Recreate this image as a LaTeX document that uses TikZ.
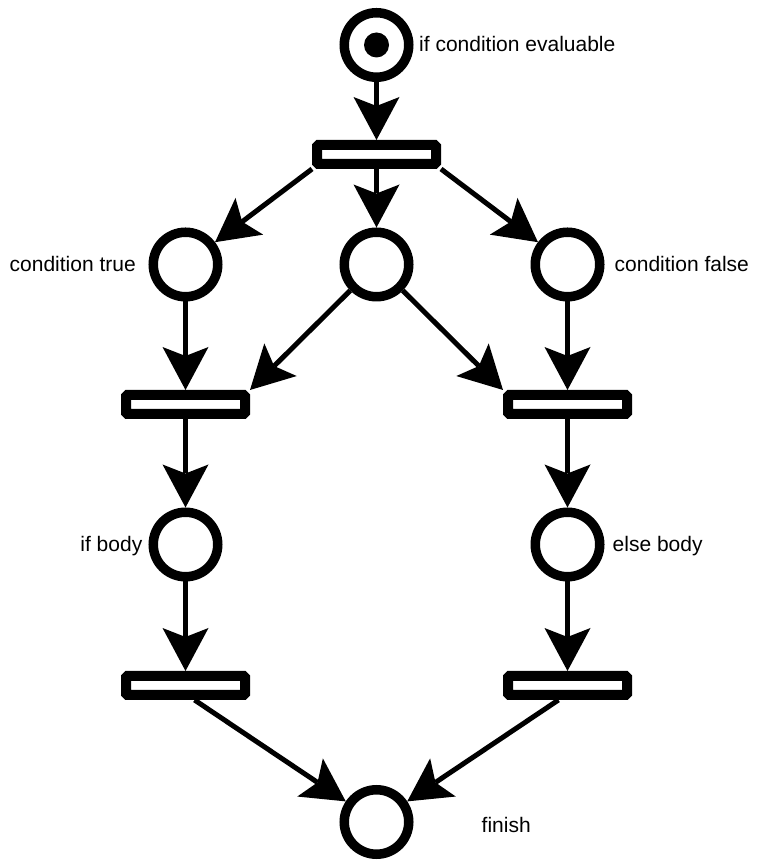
\documentclass[tikz,border=0pt]{standalone}
\usepackage{fontspec}
\setmainfont{Liberation Sans}
\usetikzlibrary{arrows.meta}

\tikzset{
  place/.style={circle, draw, line width=9.5pt, minimum size=64.5pt, inner sep=0pt},
  transition/.style={rectangle, draw, line width=10pt, minimum width=119pt,
    minimum height=19pt, inner sep=0pt, rounded corners=1.5pt},
  arc/.style={line width=5pt,
    -{Stealth[length=43pt, width=46pt, inset=9pt, line width=0pt]}},
  lbl/.style={inner sep=0pt, font=\fontsize{21}{25}\selectfont}
}

\begin{document}
\begin{tikzpicture}[x=1pt, y=1pt]
  \useasboundingbox (0,0) rectangle (758,861);

  % places
  \node[place] (p0)  at (376.5,816)   {};
  \node[place] (p2l) at (185.5,596.5) {};
  \node[place] (p2m) at (376.5,596.5) {};
  \node[place] (p2r) at (567.5,596.5) {};
  \node[place] (p4l) at (185.5,316.5) {};
  \node[place] (p4r) at (567.5,316.5) {};
  \node[place] (fin) at (376.5,39)    {};

  % token in the initial place
  \fill (p0.center) circle (12.5);

  % transitions
  \node[transition] (ttop) at (376.5,706.5) {};
  \node[transition] (t3l)  at (185.5,456.5) {};
  \node[transition] (t3r)  at (567.5,456.5) {};
  \node[transition] (t5l)  at (185.5,175.5) {};
  \node[transition] (t5r)  at (567.5,175.5) {};

  % arcs
  \draw[arc] (p0) -- (ttop);
  \draw[arc] (ttop.south west) -- (p2l);
  \draw[arc] (ttop) -- (p2m);
  \draw[arc] (ttop.south east) -- (p2r);
  \draw[arc] (p2l) -- (t3l);
  \draw[arc] (p2m) -- (t3l.north east);
  \draw[arc] (p2m) -- (t3r.north west);
  \draw[arc] (p2r) -- (t3r);
  \draw[arc] (t3l) -- (p4l);
  \draw[arc] (t3r) -- (p4r);
  \draw[arc] (p4l) -- (t5l);
  \draw[arc] (p4r) -- (t5r);
  \draw[arc] (t5l.-58) -- (fin);
  \draw[arc] (t5r.-122) -- (fin);

  % labels
  \node[lbl, anchor=base west] (l0)  at (419,809)     {if condition evaluable};
  \node[lbl, anchor=base west] (l2l) at (9.5,589.3)   {condition true};
  \node[lbl, anchor=base west] (l2r) at (614.5,589.3) {condition false};
  \node[lbl, anchor=base east] (l4l) at (142.5,309.3) {if body};
  \node[lbl, anchor=base west] (l4r) at (612.5,309.3) {else body};
  \node[lbl, anchor=base west] (lf)  at (481.5,28.3)  {finish};
\end{tikzpicture}
\end{document}
